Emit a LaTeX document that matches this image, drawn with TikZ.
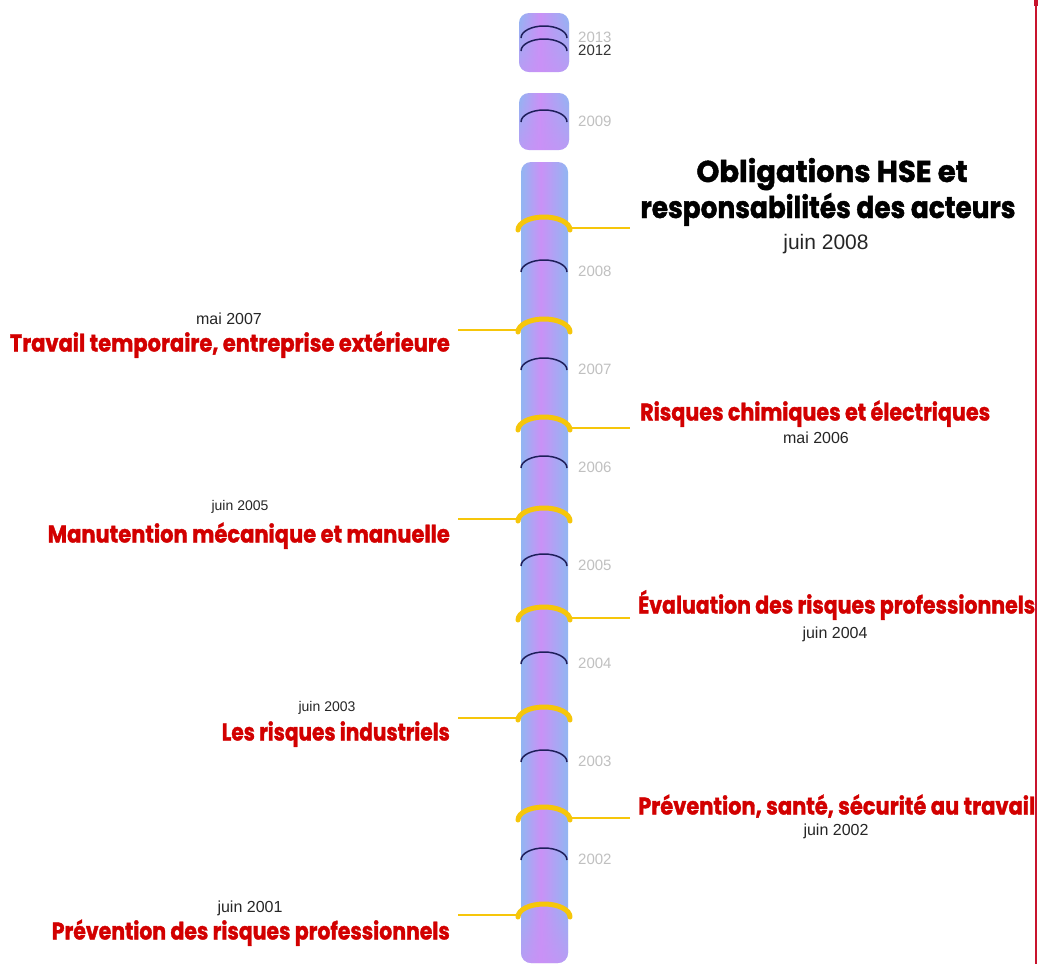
\documentclass[tikz,border=0pt]{standalone}
\usepackage{fontspec}
\setmainfont{Liberation Sans}
\newfontfamily\heavy{Poppins}[BoldFeatures={FakeBold=1.6}]
\usepackage{graphicx}
\usetikzlibrary{fadings}
\definecolor{cylb}{RGB}{145,182,242}
\definecolor{cylp}{RGB}{202,145,246}
\definecolor{hyel}{RGB}{246,198,10}
\definecolor{navy}{RGB}{30,30,90}
\definecolor{hred}{RGB}{210,0,0}
\definecolor{edgered}{RGB}{200,20,45}
\definecolor{yrgrey}{RGB}{192,192,192}
\pgfdeclarehorizontalshading{cyl}{100bp}{color(0bp)=(cylb); color(25bp)=(cylb); color(46bp)=(cylp); color(75bp)=(cylb); color(100bp)=(cylb)}
\newsavebox\fitbox
\newcommand\fitw[2]{\sbox\fitbox{#2}\pgfmathsetmacro\fitsx{#1/\the\wd\fitbox}\scalebox{\fitsx}[1]{\usebox\fitbox}}
\tikzset{
  heading/.style={text=hred, font=\heavy\bfseries\fontsize{24}{26}\selectfont, inner sep=0pt},
  titletext/.style={text=black, font=\heavy\bfseries\fontsize{30}{32}\selectfont, inner sep=0pt, anchor=base},
  datetext/.style={text=black!85, font=\fontsize{14}{16}\selectfont, inner sep=0pt, anchor=base},
  bigdate/.style={datetext, font=\fontsize{16}{18}\selectfont},
  yearlbl/.style={text=yrgrey, font=\fontsize{15}{17}\selectfont, inner sep=0pt, anchor=base west},
  conn/.style={draw=hyel, line width=2.5pt},
  evarc/.style={draw=hyel, line width=5pt, line cap=round},
  yrarc/.style={draw=navy, line width=1.5pt},
  cylinder/.style={shading=cyl, rounded corners=10pt},
  tint/.style={fill=cylp, opacity=0.7, path fading=north, rounded corners=10pt}
}
\begin{document}
\begin{tikzpicture}[x=1pt,y=-1pt]
\useasboundingbox (0,0) rectangle (1039,964);
\fill[white] (0,0) rectangle (1039,964);
% edge line
\fill[edgered] (1035,0) rectangle (1037,964);
\fill[edgered] (1034,0) rectangle (1038,6);
% cylinders
\shade[cylinder] (519,13) rectangle (569,72);
\fill[tint] (519,13) rectangle (569,72);
\shade[cylinder] (519,93) rectangle (569,150);
\fill[tint] (519,93) rectangle (569,150);
\shade[cylinder] (521,162) rectangle (568,963);
\fill[tint] (521,900) rectangle (568,963);
% year arcs
\foreach \yy in {38,51,122,272,370,468,566,664,762,860}{
  \draw[yrarc] (521,\yy) arc[start angle=180, end angle=360, x radius=23, y radius=12];
}
% year labels
\node[yearlbl] (y2013) at (578,42.4) {2013};
\node[yearlbl, text=black!80] (y2012) at (578,55.4) {2012};
\node[yearlbl] (y2009) at (578,126.4) {2009};
\node[yearlbl] (y2008) at (578,276) {2008};
\node[yearlbl] (y2007) at (578,374) {2007};
\node[yearlbl] (y2006) at (578,472) {2006};
\node[yearlbl] (y2005) at (578,570) {2005};
\node[yearlbl] (y2004) at (578,668) {2004};
\node[yearlbl] (y2003) at (578,766) {2003};
\node[yearlbl] (y2002) at (578,864) {2002};
% event arcs and connectors
\foreach \L in {228,330,428,519,618,718,818,915}{
  \draw[evarc] (518,\L+2) arc[start angle=180, end angle=360, x radius=26, y radius=13];
}
\foreach \n/\L in {a/228,c/428,e/618,g/818}{
  \coordinate (c\n1) at (569,\L);
  \coordinate (c\n2) at (630,\L);
  \draw[conn] (c\n1) -- (c\n2);
}
\foreach \n/\L in {b/330,d/519,f/718,h/915}{
  \coordinate (c\n1) at (521,\L);
  \coordinate (c\n2) at (458,\L);
  \draw[conn] (c\n1) -- (c\n2);
}
% title
\node[titletext] (t1) at (832,182) {\fitw{271}{Obligations HSE et}};
\node[titletext] (t2) at (828,218) {\fitw{375}{responsabilités des acteurs}};
\node[datetext, font=\fontsize{21}{23}\selectfont] (d2008) at (826,249.5) {juin 2008};
% left events
\node[bigdate] (d2007) at (229,324) {mai 2007};
\node[heading, anchor=base east] (h2007) at (450,351.5) {\fitw{440}{Travail temporaire, entreprise extérieure}};
\node[datetext] (d2005) at (240,510) {juin 2005};
\node[heading, anchor=base east] (h2005) at (450,542.5) {\fitw{402}{Manutention mécanique et manuelle}};
\node[datetext] (d2003) at (327,711) {juin 2003};
\node[heading, anchor=base east] (h2003) at (450,740.5) {\fitw{228}{Les risques industriels}};
\node[bigdate] (d2001) at (250,912) {juin 2001};
\node[heading, anchor=base east] (h2001) at (450,939.5) {\fitw{398}{Prévention des risques professionnels}};
% right events
\node[heading, anchor=base west] (h2006) at (640,420.5) {\fitw{350}{Risques chimiques et électriques}};
\node[bigdate] (d2006) at (816,443) {mai 2006};
\node[heading, anchor=base west] (h2004) at (638,613.5) {\fitw{397}{Évaluation des risques professionnels}};
\node[bigdate] (d2004) at (835,638) {juin 2004};
\node[heading, anchor=base west] (h2002) at (638,814.5) {\fitw{397}{Prévention, santé, sécurité au travail}};
\node[bigdate] (d2002) at (836,835) {juin 2002};
\end{tikzpicture}
\end{document}
